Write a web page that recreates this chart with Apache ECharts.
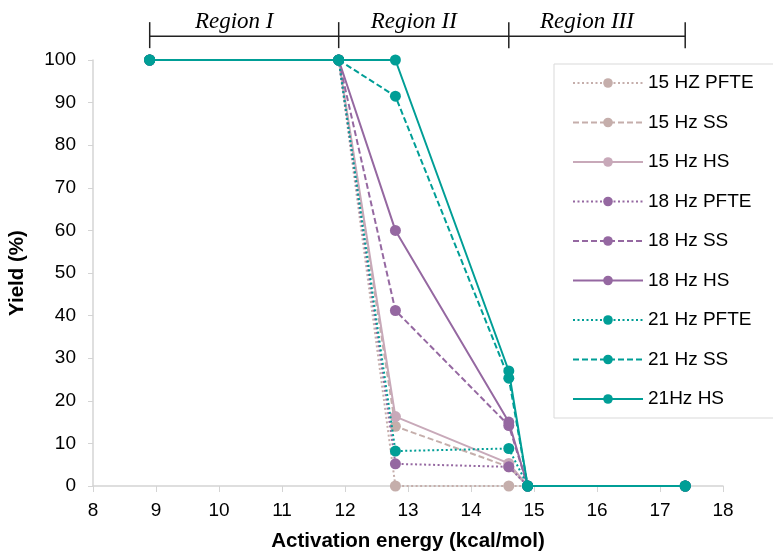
<!DOCTYPE html>
<html><head><meta charset="utf-8">
<script src="https://cdn.jsdelivr.net/npm/echarts@6/dist/echarts.min.js"></script>
<style>html,body{margin:0;padding:0;background:#fff}#c{width:773px;height:554px}</style>
</head><body><div id="c"></div>
<script>
var energy = [8.9, 11.9, 12.8, 14.6, 14.9, 17.4];
var hz15PFTE = [100, 100, 0, 0, 0, 0];
var hz15SS = [100, 100, 14, 4.5, 0, 0];
var hz15HS = [100, 100, 16.3, 5.3, 0, 0];
var hz18PFTE = [100, 100, 5.2, 4.5, 0, 0];
var hz18SS = [100, 100, 41.2, 14.2, 0, 0];
var hz18HS = [100, 100, 60, 15, 0, 0];
var hz21PFTE = [100, 100, 8.2, 8.8, 0, 0];
var hz21SS = [100, 100, 91.5, 25.3, 0, 0];
var hz21HS = [100, 100, 100, 27, 0, 0];
var seriesNames = ['15 HZ PFTE','15 Hz SS','15 Hz HS','18 Hz PFTE','18 Hz SS','18 Hz HS','21 Hz PFTE','21 Hz SS','21Hz HS'];
var seriesValues = [hz15PFTE,hz15SS,hz15HS,hz18PFTE,hz18SS,hz18HS,hz21PFTE,hz21SS,hz21HS];
var seriesColors = ['#c5aeab','#c5aeab','#c8a9b9','#9568a1','#9568a1','#9568a1','#009e96','#009e96','#009e96'];
var seriesDash = ['dotted','dashed','solid','dotted','dashed','solid','dotted','dashed','solid'];
var regionBounds = [8.9, 11.9, 14.6, 17.4];
var regionLabels = ['Region I','Region II','Region III'];
var regionY = 105.6;

var dashMap = {dotted:[2,2.5], dashed:[6,3], solid:'solid'};
var chart = echarts.init(document.getElementById('c'));
var series = seriesNames.map(function(n,i){
  return {
    name:n, type:'line', symbol:'circle', symbolSize:11,
    data: energy.map(function(x,j){return [x, seriesValues[i][j]];}),
    itemStyle:{color:seriesColors[i]},
    lineStyle:{color:seriesColors[i], width:2, type:dashMap[seriesDash[i]]},
    emphasis:{disabled:true}, animation:false, z:2+i
  };
});
chart.setOption({
  animation:false,
  grid:{left:93, right:50, top:60, bottom:68, outerBoundsMode:'none', containLabel:false},
  xAxis:{type:'value', min:8, max:18, interval:1,
    name:'Activation energy (kcal/mol)', nameLocation:'middle', nameGap:45,
    nameTextStyle:{fontFamily:'Liberation Sans', fontWeight:'bold', fontSize:20.5, color:'#000'},
    axisLine:{show:true, lineStyle:{color:'#d4d4d4', width:1.5}},
    axisTick:{show:true, length:6, lineStyle:{color:'#d4d4d4'}},
    axisLabel:{fontFamily:'Liberation Sans', fontSize:19, color:'#000', margin:15},
    splitLine:{show:false}},
  yAxis:{type:'value', min:0, max:100, interval:10,
    name:'Yield (%)', nameLocation:'middle', nameGap:65, nameRotate:90,
    nameTextStyle:{fontFamily:'Liberation Sans', fontWeight:'bold', fontSize:20.5, color:'#000'},
    axisLine:{show:true, lineStyle:{color:'#d4d4d4', width:1.5}},
    axisTick:{show:true, length:5, lineStyle:{color:'#d4d4d4'}},
    axisLabel:{fontFamily:'Liberation Sans', fontSize:19, color:'#000', margin:17},
    splitLine:{show:false}},
  legend:{orient:'vertical', left:554, top:64, width:230,
    borderColor:'#d9d9d9', borderWidth:1, backgroundColor:'#fff',
    padding:[9,40,9,18], itemWidth:70, itemHeight:12, itemGap:19.5,
    textStyle:{fontFamily:'Liberation Sans', fontSize:19, color:'#000', lineHeight:20},
    data:seriesNames},
  series:series
});
// Region annotation built from data values via the chart's scales
var g = [];
var py = chart.convertToPixel({gridIndex:0},[regionBounds[0], regionY])[1];
var px = regionBounds.map(function(b){return chart.convertToPixel({gridIndex:0},[b, regionY])[0];});
g.push({type:'line', shape:{x1:px[0], y1:py, x2:px[px.length-1], y2:py}, style:{stroke:'#222', lineWidth:1.5}});
px.forEach(function(x){ g.push({type:'line', shape:{x1:x, y1:py-14, x2:x, y2:py+12}, style:{stroke:'#222', lineWidth:1.5}}); });
regionLabels.forEach(function(t,i){
  g.push({type:'text', x:(px[i]+px[i+1])/2 - 10, y:py-3, style:{text:t, fill:'#000', font:'italic 23px "Liberation Serif"', align:'center', verticalAlign:'bottom'}});
});
chart.setOption({graphic:g});
</script></body></html>
